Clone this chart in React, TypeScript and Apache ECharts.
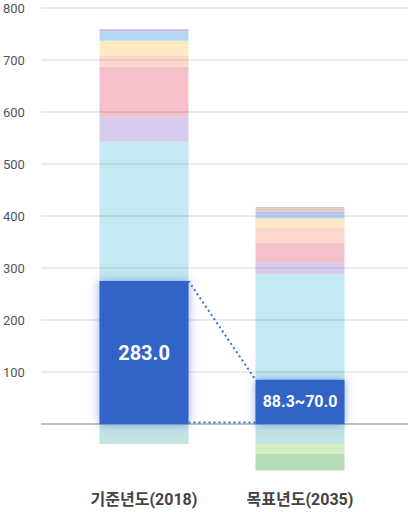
import React, { useEffect, useRef } from "react";
import * as echarts from "echarts";

const categories = ["기준년도(2018)", "목표년도(2035)"];
const yTicks = [-100, 800, 100];

// stacked pastel segments (bottom → top; negatives stack downward)
const cyanVals = [543, 288];
const lavenderVals = [48, 22];
const pinkVals = [96, 39];
const peachVals = [22, 28];
const yellowVals = [28, 18];
const lightBlueVals = [18, 9];
const purpleVals = [4, 4];
const tanVals = [0, 9.5];
const tealNegVals = [-38.5, -38.5];
const lightGreenNegVals = [0, -19];
const greenNegVals = [0, -32];

// highlighted boxes
const boxVals = [275, 85];
const boxLabels = ["283.0", "88.3~70.0"];

const segments = [
  { name: "cyan", data: cyanVals, color: "#c4e9f0" },
  { name: "lavender", data: lavenderVals, color: "#d8cbed" },
  { name: "pink", data: pinkVals, color: "#f4c1cb" },
  { name: "peach", data: peachVals, color: "#fdd7cc" },
  { name: "yellow", data: yellowVals, color: "#fee9c2" },
  { name: "lightblue", data: lightBlueVals, color: "#b5d7f3" },
  { name: "purple", data: purpleVals, color: "#c5b8f0" },
  { name: "tan", data: tanVals, color: "#d9cdc1" },
  { name: "teal", data: tealNegVals, color: "#c2e3e3" },
  { name: "lightgreen", data: lightGreenNegVals, color: "#d4eec2" },
  { name: "green", data: greenNegVals, color: "#b5dcb6" },
];

const BAR_W = 89;
const BLUE = "#3164c7";

export default function App() {
  const ref = useRef<HTMLDivElement>(null);
  useEffect(() => {
    document.body.style.margin = "0";
    const chart = echarts.init(ref.current!, null, { renderer: "svg" });
    const [yMin, yMax, yInt] = yTicks;
    const splitColors = ["rgba(0,0,0,0)", "rgba(0,0,0,0.32)"];
    for (let i = 0; i < 12; i++) splitColors.push("rgba(0,0,0,0.1)");
    const font = "Roboto, 'Noto Sans CJK KR', sans-serif";
    chart.setOption({
      animation: false,
      grid: [
        { left: 38, right: 0, top: 8, bottom: 36 },
        { left: 66, right: 30, top: 8, bottom: 36 },
      ],
      xAxis: [
        { type: "category", gridIndex: 0, data: categories, show: false },
        {
          type: "category",
          gridIndex: 1,
          data: categories,
          axisLine: { show: false },
          axisTick: { show: false },
          axisLabel: {
            margin: 15,
            color: "#444",
            fontSize: 16,
            fontWeight: "bold",
            fontFamily: font,
          },
        },
      ],
      yAxis: [
        {
          type: "value",
          gridIndex: 0,
          min: yMin,
          max: yMax,
          interval: yInt,
          z: 2,
          axisLine: { show: false },
          axisTick: { show: false },
          axisLabel: {
            align: "left",
            margin: 38,
            color: "#555",
            fontSize: 13,
            fontFamily: font,
            formatter: (v: number) => (v > 0 ? String(v) : ""),
          },
          splitLine: { show: true, lineStyle: { color: splitColors, width: 1.5 } },
        },
        {
          type: "value",
          gridIndex: 1,
          min: yMin,
          max: yMax,
          interval: yInt,
          show: false,
          splitLine: { show: false },
        },
      ],
      series: [
        ...segments.map((s) => ({
          type: "bar",
          name: s.name,
          xAxisIndex: 1,
          yAxisIndex: 1,
          stack: "total",
          barWidth: BAR_W,
          barGap: "-100%",
          z: 1,
          data: s.data,
          itemStyle: { color: s.color },
        })),
        {
          type: "bar",
          name: "box",
          xAxisIndex: 1,
          yAxisIndex: 1,
          barWidth: BAR_W,
          barGap: "-100%",
          z: 3,
          data: boxVals.map((v, i) => ({
            value: v,
            label: { fontSize: i === 0 ? 20 : 16 },
          })),
          itemStyle: {
            color: BLUE,
            shadowBlur: 10,
            shadowColor: "rgba(40,90,220,0.5)",
          },
          label: {
            show: true,
            position: "inside",
            color: "#fff",
            fontWeight: "bold",
            fontFamily: font,
            formatter: (p: any) => boxLabels[p.dataIndex],
          },
        },
      ],
    });
    const conv = (c: number, v: number) =>
      chart.convertToPixel({ xAxisIndex: 1, yAxisIndex: 1 } as any, [c, v]) as number[];
    const p1Top = conv(0, boxVals[0]);
    const p2Top = conv(1, boxVals[1]);
    const p1Base = conv(0, 0);
    const p2Base = conv(1, 0);
    const half = BAR_W / 2;
    const dash = { stroke: "#3a6ed2", lineWidth: 2, lineDash: [2, 3] };
    chart.setOption({
      graphic: [
        {
          type: "line",
          z: 4,
          shape: { x1: p1Top[0] + half, y1: p1Top[1], x2: p2Top[0] - half, y2: p2Top[1] },
          style: dash,
        },
        {
          type: "line",
          z: 4,
          shape: { x1: p1Base[0] + half, y1: p1Base[1] - 1.5, x2: p2Base[0] - half, y2: p2Base[1] - 1.5 },
          style: dash,
        },
      ],
    });
    return () => chart.dispose();
  }, []);
  return <div ref={ref} style={{ width: 408, height: 512 }} />;
}
